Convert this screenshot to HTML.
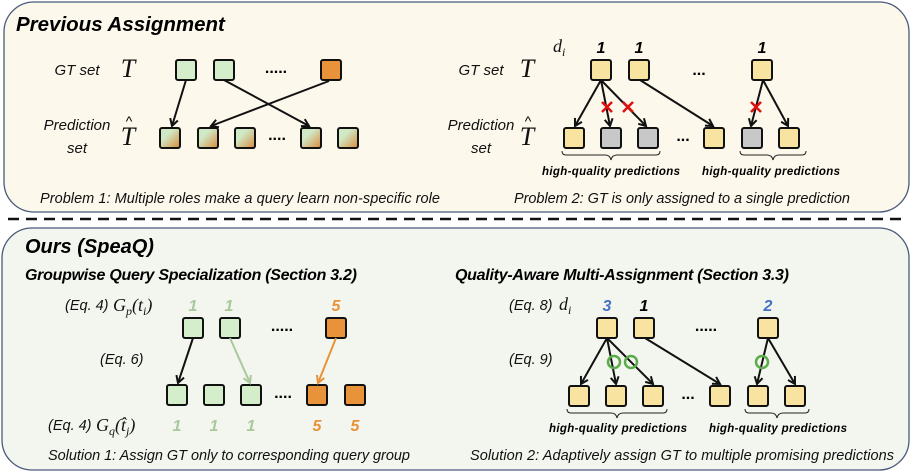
<!DOCTYPE html>
<html><head><meta charset="utf-8"><style>
html,body{margin:0;padding:0;background:#fff;}
svg{display:block;font-family:"Liberation Sans",sans-serif;}
.t{font-style:italic;font-size:14.5px;fill:#111;}
.l{font-style:italic;font-size:15px;fill:#111;}
.h{font-style:italic;font-weight:bold;fill:#000;}
.m{font-family:"Liberation Serif",serif;font-style:italic;fill:#111;}
.b{stroke:#111;stroke-width:2;}
.a{stroke:#111;stroke-width:2;fill:none;marker-end:url(#ar);}
.br{stroke:#222;stroke-width:1;fill:none;}
</style></head><body>
<svg width="914" height="474" viewBox="0 0 914 474" xmlns="http://www.w3.org/2000/svg">
<defs>
<marker id="ar" markerWidth="10" markerHeight="10" refX="8" refY="5" orient="auto" markerUnits="userSpaceOnUse"><path d="M1,1 L8,5 L1,9" fill="none" stroke="#111" stroke-width="2"/></marker>
<marker id="ag" markerWidth="10" markerHeight="10" refX="8" refY="5" orient="auto" markerUnits="userSpaceOnUse"><path d="M1,1 L8,5 L1,9" fill="none" stroke="#a9c89c" stroke-width="2"/></marker>
<marker id="ao" markerWidth="10" markerHeight="10" refX="8" refY="5" orient="auto" markerUnits="userSpaceOnUse"><path d="M1,1 L8,5 L1,9" fill="none" stroke="#e8923a" stroke-width="2"/></marker>
<linearGradient id="gr" x1="0" y1="0" x2="1" y2="1"><stop offset="0.35" stop-color="#cfe8c5"/><stop offset="1" stop-color="#d98a3a"/></linearGradient>
</defs>
<rect x="4" y="2" width="905" height="210" rx="30" fill="#fdf8ec" stroke="#4a5a7a" stroke-width="1.3"/>
<line x1="8" y1="219" x2="908" y2="219" stroke="#111" stroke-width="2.5" stroke-dasharray="11,7"/>
<rect x="2" y="228" width="907" height="242" rx="30" fill="#f3f6ee" stroke="#4a5a7a" stroke-width="1.3"/>

<text x="16" y="31" class="h" font-size="20.5">Previous Assignment</text>
<text x="77" y="75" class="l" text-anchor="middle">GT set</text>
<text x="128" y="77" class="m" font-size="26" text-anchor="middle">T</text>
<text x="77" y="130" class="l" text-anchor="middle">Prediction</text>
<text x="77" y="153" class="l" text-anchor="middle">set</text>
<text x="128" y="145" class="m" font-size="26" text-anchor="middle">T</text><text x="129" y="126" font-size="14" text-anchor="middle">^</text>
<g class="b">
<rect x="176" y="60" width="20" height="20" rx="2" fill="#d4edcb"/>
<rect x="214" y="60" width="20" height="20" rx="2" fill="#d4edcb"/>
<rect x="321" y="60" width="20" height="20" rx="2" fill="#e8923a"/>
<rect x="160" y="128" width="20" height="20" rx="2" fill="url(#gr)"/>
<rect x="198" y="128" width="20" height="20" rx="2" fill="url(#gr)"/>
<rect x="235" y="128" width="20" height="20" rx="2" fill="url(#gr)"/>
<rect x="301" y="128" width="20" height="20" rx="2" fill="url(#gr)"/>
<rect x="338" y="128" width="20" height="20" rx="2" fill="url(#gr)"/>
</g>
<text x="276" y="73" font-size="16" font-weight="bold" text-anchor="middle">.....</text>
<text x="277" y="140" font-size="16" font-weight="bold" text-anchor="middle">....</text>
<line x1="186" y1="80" x2="172" y2="126" class="a"/>
<line x1="224" y1="80" x2="309" y2="126" class="a"/>
<line x1="329" y1="81" x2="211" y2="126" class="a"/>
<text x="40" y="203" class="t" textLength="400">Problem 1: Multiple roles make a query learn non-specific role</text>

<text x="553" y="52" class="m" font-size="18">d<tspan font-size="12" dy="4">i</tspan></text>
<text x="601" y="53" class="h" font-size="16" text-anchor="middle">1</text>
<text x="639" y="53" class="h" font-size="16" text-anchor="middle">1</text>
<text x="762" y="53" class="h" font-size="16" text-anchor="middle">1</text>
<text x="481" y="75" class="l" text-anchor="middle">GT set</text>
<text x="527" y="77" class="m" font-size="26" text-anchor="middle">T</text>
<text x="481" y="130" class="l" text-anchor="middle">Prediction</text>
<text x="481" y="153" class="l" text-anchor="middle">set</text>
<text x="527" y="145" class="m" font-size="26" text-anchor="middle">T</text><text x="528" y="126" font-size="14" text-anchor="middle">^</text>
<g class="b">
<rect x="591" y="60" width="20" height="20" rx="2" fill="#f8e3a0"/>
<rect x="629" y="60" width="20" height="20" rx="2" fill="#f8e3a0"/>
<rect x="752" y="60" width="20" height="20" rx="2" fill="#f8e3a0"/>
<rect x="564" y="128" width="20" height="20" rx="2" fill="#f8e3a0"/>
<rect x="601" y="128" width="20" height="20" rx="2" fill="#c8c8c8"/>
<rect x="638" y="128" width="20" height="20" rx="2" fill="#c8c8c8"/>
<rect x="704" y="128" width="20" height="20" rx="2" fill="#f8e3a0"/>
<rect x="742" y="128" width="20" height="20" rx="2" fill="#c8c8c8"/>
<rect x="779" y="128" width="20" height="20" rx="2" fill="#f8e3a0"/>
</g>
<text x="699" y="75" font-size="16" font-weight="bold" text-anchor="middle">...</text>
<text x="683" y="141" font-size="16" font-weight="bold" text-anchor="middle">...</text>
<line x1="601" y1="80" x2="575" y2="126" class="a"/>
<line x1="601" y1="80" x2="610" y2="126" class="a"/>
<line x1="601" y1="80" x2="646" y2="126" class="a"/>
<line x1="640" y1="80" x2="713" y2="126" class="a"/>
<line x1="763" y1="80" x2="751" y2="126" class="a"/>
<line x1="763" y1="80" x2="788" y2="126" class="a"/>
<g stroke="#e01010" stroke-width="2.5">
<path d="M602,102 l10,10 M612,102 l-10,10"/>
<path d="M623,102 l10,10 M633,102 l-10,10"/>
<path d="M751,102 l10,10 M761,102 l-10,10"/>
</g>
<path class="br" d="M562,151 q0,4 4,4 h39 q5,0 6,5 q1,-5 6,-5 h39 q4,0 4,-4"/>
<path class="br" d="M740,151 q0,4 4,4 h23 q5,0 6,5 q1,-5 6,-5 h23 q4,0 4,-4"/>
<text x="611" y="175" class="h" font-size="11.5" text-anchor="middle" textLength="138">high-quality predictions</text>
<text x="771" y="175" class="h" font-size="11.5" text-anchor="middle" textLength="138">high-quality predictions</text>
<text x="682" y="203" class="t" text-anchor="middle" textLength="336">Problem 2: GT is only assigned to a single prediction</text>

<text x="25" y="253" class="h" font-size="20">Ours (SpeaQ)</text>
<text x="25" y="280" class="h" font-size="16" textLength="332">Groupwise Query Specialization (Section 3.2)</text>
<text x="65" y="310" class="t" font-size="13">(Eq. 4)</text>
<text x="113" y="311" class="m" font-size="18">G<tspan font-size="12" dy="4">p</tspan><tspan dy="-4">(t</tspan><tspan font-size="12" dy="4">i</tspan><tspan dy="-4">)</tspan></text>
<text x="193" y="311" class="h" font-size="16" text-anchor="middle" style="fill:#a9c89c">1</text>
<text x="229" y="311" class="h" font-size="16" text-anchor="middle" style="fill:#a9c89c">1</text>
<text x="336" y="311" class="h" font-size="16" text-anchor="middle" style="fill:#e8923a">5</text>
<g class="b">
<rect x="183" y="318" width="20" height="20" rx="2" fill="#d4edcb"/>
<rect x="220" y="318" width="20" height="20" rx="2" fill="#d4edcb"/>
<rect x="326" y="318" width="20" height="20" rx="2" fill="#e8923a"/>
<rect x="167" y="385" width="20" height="20" rx="2" fill="#d4edcb"/>
<rect x="204" y="385" width="20" height="20" rx="2" fill="#d4edcb"/>
<rect x="241" y="385" width="20" height="20" rx="2" fill="#d4edcb"/>
<rect x="307" y="385" width="20" height="20" rx="2" fill="#e8923a"/>
<rect x="345" y="385" width="20" height="20" rx="2" fill="#e8923a"/>
</g>
<text x="282" y="331" font-size="16" font-weight="bold" text-anchor="middle">.....</text>
<text x="283" y="398" font-size="16" font-weight="bold" text-anchor="middle">....</text>
<text x="100" y="364" class="t" font-size="13">(Eq. 6)</text>
<line x1="193" y1="338" x2="178" y2="383" class="a"/>
<line x1="230" y1="338" x2="250" y2="383" stroke="#a9c89c" stroke-width="2" marker-end="url(#ag)"/>
<line x1="336" y1="338" x2="318" y2="383" stroke="#e8923a" stroke-width="2" marker-end="url(#ao)"/>
<text x="48" y="430" class="t" font-size="13">(Eq. 4)</text>
<text x="96" y="431" class="m" font-size="18">G<tspan font-size="12" dy="4">q</tspan><tspan dy="-4">(t̂</tspan><tspan font-size="12" dy="4">j</tspan><tspan dy="-4">)</tspan></text>
<text x="177" y="431" class="h" font-size="16" text-anchor="middle" style="fill:#a9c89c">1</text>
<text x="214" y="431" class="h" font-size="16" text-anchor="middle" style="fill:#a9c89c">1</text>
<text x="251" y="431" class="h" font-size="16" text-anchor="middle" style="fill:#a9c89c">1</text>
<text x="317" y="431" class="h" font-size="16" text-anchor="middle" style="fill:#e8923a">5</text>
<text x="355" y="431" class="h" font-size="16" text-anchor="middle" style="fill:#e8923a">5</text>
<text x="229" y="460" class="t" text-anchor="middle" textLength="362">Solution 1: Assign GT only to corresponding query group</text>

<text x="455" y="280" class="h" font-size="16" textLength="334">Quality-Aware Multi-Assignment (Section 3.3)</text>
<text x="509" y="310" class="t" font-size="13">(Eq. 8)</text>
<text x="559" y="310" class="m" font-size="18">d<tspan font-size="12" dy="4">i</tspan></text>
<text x="607" y="311" class="h" font-size="16" text-anchor="middle" style="fill:#4472c4">3</text>
<text x="644" y="311" class="h" font-size="16" text-anchor="middle">1</text>
<text x="768" y="311" class="h" font-size="16" text-anchor="middle" style="fill:#4472c4">2</text>
<g class="b">
<rect x="597" y="318" width="20" height="20" rx="2" fill="#f8e3a0"/>
<rect x="634" y="318" width="20" height="20" rx="2" fill="#f8e3a0"/>
<rect x="758" y="318" width="20" height="20" rx="2" fill="#f8e3a0"/>
<rect x="569" y="386" width="20" height="20" rx="2" fill="#f8e3a0"/>
<rect x="606" y="386" width="20" height="20" rx="2" fill="#f8e3a0"/>
<rect x="643" y="386" width="20" height="20" rx="2" fill="#f8e3a0"/>
<rect x="710" y="386" width="20" height="20" rx="2" fill="#f8e3a0"/>
<rect x="748" y="386" width="20" height="20" rx="2" fill="#f8e3a0"/>
<rect x="785" y="386" width="20" height="20" rx="2" fill="#f8e3a0"/>
</g>
<text x="706" y="331" font-size="16" font-weight="bold" text-anchor="middle">.....</text>
<text x="688" y="399" font-size="16" font-weight="bold" text-anchor="middle">...</text>
<text x="509" y="364" class="t" font-size="13">(Eq. 9)</text>
<line x1="607" y1="338" x2="581" y2="384" class="a"/>
<line x1="607" y1="338" x2="616" y2="384" class="a"/>
<line x1="607" y1="338" x2="653" y2="384" class="a"/>
<line x1="645" y1="338" x2="720" y2="384" class="a"/>
<line x1="768" y1="338" x2="757" y2="384" class="a"/>
<line x1="768" y1="338" x2="795" y2="384" class="a"/>
<g stroke="#5aac4a" stroke-width="2.5" fill="none">
<circle cx="614" cy="362" r="6"/><circle cx="631" cy="362" r="6"/><circle cx="762" cy="362" r="6"/>
</g>
<path class="br" d="M567,409 q0,4 4,4 h40 q5,0 6,5 q1,-5 6,-5 h40 q4,0 4,-4"/>
<path class="br" d="M745,409 q0,4 4,4 h22 q5,0 6,5 q1,-5 6,-5 h22 q4,0 4,-4"/>
<text x="618" y="432" class="h" font-size="11.5" text-anchor="middle" textLength="138">high-quality predictions</text>
<text x="778" y="432" class="h" font-size="11.5" text-anchor="middle" textLength="138">high-quality predictions</text>
<text x="682" y="460" class="t" text-anchor="middle" textLength="424">Solution 2: Adaptively assign GT to multiple promising predictions</text>
</svg>
</body></html>
